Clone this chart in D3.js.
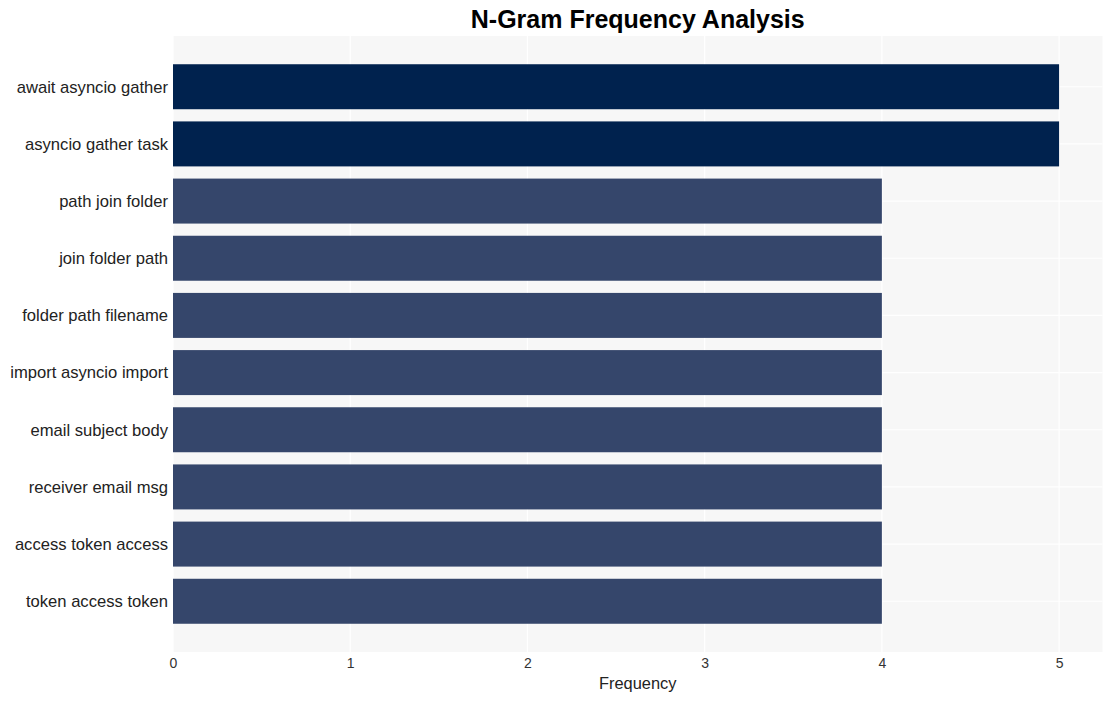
<!DOCTYPE html>
<html><head><meta charset="utf-8">
<script src="https://cdn.jsdelivr.net/npm/d3@7"></script>
<style>body{margin:0;background:#fff;}svg{display:block;font-family:"Liberation Sans",Arial,sans-serif;}</style>
</head><body>
<svg id="c" width="1113" height="701"></svg>
<script>
const categories = ["await asyncio gather","asyncio gather task","path join folder","join folder path","folder path filename","import asyncio import","email subject body","receiver email msg","access token access","token access token"];
const values = [5,5,4,4,4,4,4,4,4,4];
const xTicks = [0,1,2,3,4,5];
const title = "N-Gram Frequency Analysis";
const xTitle = "Frequency";

const svg = d3.select("#c");
const L = 173, R = 1102.5, T = 36, B = 652;
svg.append("rect").attr("x",L).attr("y",T).attr("width",R-L).attr("height",B-T).attr("fill","#f7f7f7");

const x = d3.scaleLinear().domain([0,5.245]).range([L,R]);
const y = d3.scaleBand().domain(categories).range([T,B]).paddingInner(0.213).paddingOuter(0.494);

svg.selectAll(".vg").data(xTicks).enter().append("line")
 .attr("x1",d=>x(d)).attr("x2",d=>x(d)).attr("y1",T).attr("y2",B).attr("stroke","#ffffff").attr("stroke-width",1.2);
svg.selectAll(".hg").data(categories).enter().append("line")
 .attr("x1",L).attr("x2",R).attr("y1",d=>y(d)+y.bandwidth()/2).attr("y2",d=>y(d)+y.bandwidth()/2).attr("stroke","#ffffff").attr("stroke-width",1.2);

svg.selectAll(".bar").data(categories).enter().append("rect")
 .attr("x",x(0)).attr("y",d=>y(d)).attr("height",y.bandwidth())
 .attr("width",(d,i)=>x(values[i])-x(0))
 .attr("fill",(d,i)=>values[i]===5?"#00224e":"#35466b");

const ya = svg.append("g").attr("transform",`translate(${L},0)`).call(d3.axisLeft(y).tickSize(0).tickPadding(5));
ya.select(".domain").remove();
ya.selectAll("text").style("font-size","16.6px").attr("fill","#222").style("font-family","Liberation Sans, Arial, sans-serif").attr("dy","0.35em");

const xa = svg.append("g").attr("transform",`translate(0,${B})`).call(d3.axisBottom(x).tickValues(xTicks).tickFormat(d3.format("d")).tickSize(0));
xa.select(".domain").remove();
xa.selectAll("text").style("font-size","14px").attr("fill","#333").style("font-family","Liberation Sans, Arial, sans-serif").attr("dy","0").attr("y",16);

svg.append("text").attr("x",(L+R)/2).attr("y",688.5).attr("text-anchor","middle").attr("font-size",16.4).attr("fill","#222").text(xTitle);
svg.append("text").attr("x",(L+R)/2).attr("y",28).attr("text-anchor","middle").attr("font-size",25).attr("font-weight","bold").attr("fill","#000").text(title);
</script>
</body></html>
